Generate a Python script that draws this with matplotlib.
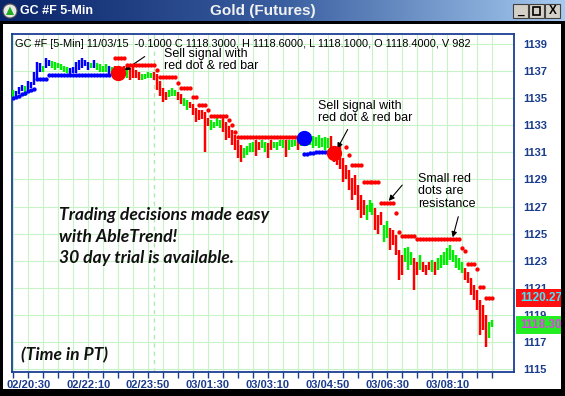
import numpy as np
import matplotlib
matplotlib.use("Agg")
import matplotlib.pyplot as plt
from matplotlib.patches import Rectangle, Circle, Polygon
from matplotlib.colors import LinearSegmentedColormap

W, H = 565, 396

# --- 5-min bars (bar 0 = 02/20:05) ---
highs = [1135.6, 1135.5, 1135.8, 1136.0, 1135.9, 1136.3, 1136.2, 1136.9, 1137.7, 1137.6,
         1137.4, 1138.0, 1137.8, 1137.75, 1137.7, 1137.6, 1137.5, 1137.4, 1137.3, 1137.2,
         1137.3, 1137.7, 1137.8, 1138.0, 1137.8, 1137.7, 1137.6, 1137.8, 1137.6, 1137.5,
         1137.4, 1137.5, 1137.4, 1137.3, 1137.4, 1137.25, 1137.3, 1137.4, 1137.3, 1137.25,
         1137.3, 1137.1, 1136.9, 1136.8, 1136.8, 1136.9, 1136.85, 1136.9, 1136.8, 1136.3,
         1135.75, 1135.45, 1135.6, 1135.75, 1135.6, 1135.45, 1135.3, 1135.0, 1134.9, 1134.7,
         1134.6, 1134.3, 1134.1, 1134.1, 1134.0, 1133.55, 1133.4, 1133.25, 1133.55, 1133.4,
         1133.55, 1133.25, 1132.95, 1132.65, 1132.3, 1131.9, 1131.55, 1131.3, 1131.45, 1131.7,
         1131.75, 1131.9, 1131.75, 1131.9, 1131.75, 1131.7, 1131.9, 1131.8, 1131.75, 1131.95,
         1131.95, 1131.9, 1131.9, 1131.95, 1131.95, 1131.9, 1131.95, 1132.2, 1132.2, 1132.35,
         1132.2, 1132.1, 1132.3, 1132.05, 1132.1, 1132.05, 1132.2, 1131.5, 1131.3, 1131.5,
         1130.6, 1130.1, 1129.7, 1129.1, 1129.3, 1128.6, 1127.85, 1127.5, 1127.1, 1127.5,
         1127.25, 1126.9, 1126.4, 1126.6, 1125.65, 1125.9, 1125.4, 1125.3, 1124.9, 1123.8,
         1123.45, 1123.95, 1124.0, 1123.65, 1123.2, 1122.9, 1123.4, 1122.9, 1122.7, 1122.9,
         1123.05, 1122.9, 1123.2, 1123.4, 1123.65, 1123.95, 1124.2, 1123.8, 1123.4, 1123.2,
         1122.9, 1122.45, 1122.15, 1121.7, 1121.2, 1120.85, 1120.1, 1119.75, 1119.0, 1118.5, 1118.6]
lows = [1135.0, 1135.1, 1135.3, 1135.5, 1135.2, 1135.6, 1135.75, 1136.0, 1136.5, 1136.9,
        1136.9, 1137.2, 1137.4, 1137.2, 1137.1, 1137.2, 1137.1, 1136.9, 1136.85, 1136.8,
        1136.85, 1136.85, 1137.1, 1137.2, 1137.4, 1137.1, 1137.2, 1137.2, 1137.1, 1136.9,
        1136.9, 1136.9, 1136.8, 1136.8, 1136.6, 1136.5, 1136.7, 1136.6, 1136.5, 1136.35,
        1136.5, 1136.5, 1136.35, 1136.35, 1136.4, 1136.5, 1136.5, 1136.35, 1135.6, 1135.2,
        1134.7, 1134.9, 1135.1, 1135.2, 1135.2, 1134.9, 1134.55, 1134.4, 1134.1, 1134.3,
        1133.75, 1133.25, 1133.4, 1133.5, 1131.0, 1132.95, 1132.65, 1132.8, 1132.95, 1132.8,
        1132.5, 1131.9, 1132.05, 1131.55, 1131.2, 1130.6, 1130.3, 1130.6, 1130.8, 1131.0,
        1131.0, 1130.7, 1131.2, 1131.3, 1131.0, 1130.6, 1131.2, 1131.3, 1131.2, 1131.45,
        1131.3, 1130.65, 1131.2, 1131.4, 1131.45, 1131.2, 1131.5, 1131.6, 1131.45, 1131.55,
        1131.3, 1131.5, 1131.3, 1131.4, 1131.2, 1131.3, 1131.0, 1130.3, 1130.1, 1129.75,
        1128.8, 1129.0, 1128.2, 1127.5, 1127.85, 1126.75, 1126.15, 1126.35, 1126.0, 1126.6,
        1126.4, 1125.3, 1124.95, 1125.65, 1124.4, 1124.7, 1123.8, 1124.15, 1123.45, 1121.6,
        1121.95, 1122.9, 1122.35, 1122.7, 1120.85, 1121.95, 1122.35, 1122.15, 1121.95, 1122.35,
        1122.15, 1121.95, 1122.35, 1122.45, 1122.7, 1122.7, 1123.05, 1122.9, 1122.45, 1122.35,
        1122.1, 1121.6, 1121.35, 1120.45, 1120.1, 1119.35, 1117.55, 1117.9, 1116.65, 1117.3, 1118.1]
# b = uptrend, g = neutral, r = downtrend
bar_codes = ("gbbbgbbbbb" "gbbggggggb" "bbbbbbgbgg" "ggbgrrgrgr" "rrrggggrrr"
             "rrgggrrggr" "rrrrrrgggg" "rrrrrrrggg" "grrggrrggg" "grgggrgbgg"
             "ggggggrrrr" "rrrrrrrrgg" "grrrggrrrr" "rgggrrgrrr" "grgggggggg"
             "grrrrrrrrg" "g")

# stop dots: runs of (first bar, last bar, level)
blue_start = [0, 1, 2, 3, 4, 5, 6, 7, 8, 12, 97, 99, 101, 103]
blue_end = [0, 1, 2, 3, 4, 5, 6, 7, 11, 32, 98, 100, 102, 105]
blue_level = [1135.0, 1135.1, 1135.2, 1135.3, 1135.4, 1135.5, 1135.6, 1135.7, 1136.4, 1136.7,
              1130.9, 1130.95, 1131.0, 1131.05]
red_start = [34, 38, 48, 49, 55, 56, 60, 62, 65, 66, 72, 73, 74, 75, 111, 112, 113, 117, 123, 128,
             129, 130, 135, 150, 151, 152, 155, 156, 158]
red_end = [37, 47, 48, 54, 55, 59, 61, 64, 65, 71, 72, 73, 74, 96, 111, 112, 116, 122, 127, 128,
           129, 134, 149, 150, 151, 154, 155, 157, 160]
red_level = [1138.0, 1137.45, 1137.1, 1136.55, 1136.1, 1135.75, 1135.1, 1134.5, 1134.1, 1133.7,
             1133.4, 1133.0, 1132.5, 1132.1, 1131.4, 1130.8, 1130.05, 1128.8, 1127.25, 1126.5,
             1125.1, 1124.85, 1124.6, 1123.95, 1123.7, 1122.75, 1122.4, 1121.1, 1120.27]

# big signal dots
sig_bar = [35, 97, 107]
sig_price = [1136.86, 1132.06, 1130.95]
sig_color = ["#ff0000", "#0000ff", "#ff0000"]

time_labels = ["02/20:30", "02/22:10", "02/23:50", "03/01:30",
               "03/03:10", "03/04:50", "03/06:30", "03/08:10"]
label_bars = [5, 25, 45, 65, 85, 105, 125, 145]
price_ticks = list(range(1115, 1140, 2))

last_stop = 1120.27
last_close = 1118.30

code_col = {"b": "#0000ff", "g": "#00ee00", "r": "#ff0000"}
navy = "#1a3c8c"


def fx(x):
    return x / W


def fy(y):
    return 1 - y / H


fig = plt.figure(figsize=(W / 100, H / 100), dpi=100)
fig.patch.set_facecolor("white")

# ---- title bar ----
tb = fig.add_axes([0, fy(21), 1, 21 / H])
grad = np.linspace(0, 1, 256).reshape(1, -1)
cm = LinearSegmentedColormap.from_list("tb", ["#0a246a", "#3a5fa0", "#a6caf0"])
tb.imshow(grad, aspect="auto", cmap=cm, extent=[0, W, 21, 0])
tb.set_xlim(0, W)
tb.set_ylim(21, 0)
tb.axis("off")
tb.add_patch(Circle((10, 11), 7, facecolor="#e8e8e8", edgecolor="#555555", lw=0.8))
tb.add_patch(Polygon([[6, 15], [10, 6.5], [14, 15]], closed=True, facecolor="#22aa22"))
tb.text(20, 11, "GC #F 5-Min", color="white", fontsize=9, fontweight="bold",
        family="Liberation Sans", va="center", ha="left")
tb.text(263, 11, "Gold (Futures)", color="#f2f2f2", fontsize=11, fontweight="bold",
        family="Liberation Sans", va="center", ha="center")
for bx, sym in zip([513, 529, 545], ["_", "", "X"]):
    tb.add_patch(Rectangle((bx, 3.5), 15, 14, facecolor="#d4d0c8", edgecolor="#404040", lw=0.8))
    if sym:
        tb.text(bx + 7.5, 11, sym, fontsize=8.5, fontweight="bold", ha="center", va="center",
                family="Liberation Sans", color="black")
    else:
        tb.add_patch(Rectangle((bx + 4, 6.5), 7, 8, facecolor="none", edgecolor="black", lw=1.2))

# ---- main chart ----
ax = fig.add_axes([fx(12), fy(372), (514 - 12) / W, (372 - 34) / H])
ax.set_xlim(-0.5, 167.3)
ax.set_ylim(1114.79, 1139.74)

xt = list(range(0, 161, 5))
ax.set_xticks(xt)
ax.set_xticklabels([time_labels[label_bars.index(t)] if t in label_bars else "" for t in xt])
ax.set_yticks(price_ticks)
ax.yaxis.tick_right()
ax.grid(True, color="#c6f4c6", lw=0.8)
ax.set_axisbelow(True)
ax.axvline(47, color="#b0e8b0", lw=1, ls=(0, (3, 3)), zorder=0.5)

ax.tick_params(axis="y", length=0, pad=7, labelsize=8, labelcolor=navy)
ax.tick_params(axis="x", length=4, width=1, color=navy, pad=2, labelsize=8, labelcolor=navy)
for lab in ax.get_xticklabels() + ax.get_yticklabels():
    lab.set_fontweight("bold")
    lab.set_family("Liberation Sans")
for sp in ax.spines.values():
    sp.set_color("#1b3f96")
    sp.set_linewidth(1.3)

idx = np.arange(len(highs))
ax.vlines(idx, lows, highs, colors=[code_col[c] for c in bar_codes], lw=1.75, zorder=3)

for s, e, lv in zip(blue_start, blue_end, blue_level):
    xs = np.arange(s, e + 1)
    ax.plot(xs, [lv] * len(xs), "o", color="#0000ff", ms=3.1, mew=0, zorder=4)
for s, e, lv in zip(red_start, red_end, red_level):
    xs = np.arange(s, e + 1)
    ax.plot(xs, [lv] * len(xs), "o", color="#ff0000", ms=3.1, mew=0, zorder=4)

for b, p, c in zip(sig_bar, sig_price, sig_color):
    ax.plot(b, p, "o", color=c, ms=11, mew=0, zorder=5)

# ---- texts ----
fig.text(fx(15), fy(44), "GC #F [5-Min] 11/03/15  -0.1000 C 1118.3000, H 1118.6000, "
         "L 1118.1000, O 1118.4000, V 982", fontsize=7.9, family="Liberation Sans",
         va="center", ha="left", color="black")

note_kw = dict(fontsize=9, family="Liberation Sans", color="black", linespacing=1.05,
               va="top", ha="left")
arrow_kw = dict(arrowstyle="-|>", color="black", lw=0.8, mutation_scale=8)
fig.text(fx(164), fy(48), "Sell signal with\nred dot & red bar", **note_kw)
ax.annotate("", xy=(fx(122), fy(72)), xycoords="figure fraction",
            xytext=(fx(147), fy(55)), textcoords="figure fraction", arrowprops=arrow_kw)
fig.text(fx(318), fy(100), "Sell signal with\nred dot & red bar", **note_kw)
ax.annotate("", xy=(fx(336), fy(151)), xycoords="figure fraction",
            xytext=(fx(349), fy(127)), textcoords="figure fraction", arrowprops=arrow_kw)
fig.text(fx(418), fy(173), "Small red\ndots are\nresistance", **note_kw)
ax.annotate("", xy=(fx(387), fy(203)), xycoords="figure fraction",
            xytext=(fx(404), fy(183)), textcoords="figure fraction", arrowprops=arrow_kw)
ax.annotate("", xy=(fx(452), fy(240)), xycoords="figure fraction",
            xytext=(fx(459), fy(214)), textcoords="figure fraction", arrowprops=arrow_kw)

ad_kw = dict(fontsize=12.6, fontweight="bold", style="italic", family="Lato",
             color="#111111", va="center", ha="left")
fig.text(fx(59), fy(215), "Trading decisions made easy", **ad_kw)
fig.text(fx(59), fy(237), "with AbleTrend!", **ad_kw)
fig.text(fx(59), fy(258), "30 day trial is available.", **ad_kw)
fig.text(fx(21), fy(355), "(Time in PT)", **ad_kw)

# last price boxes on the right scale
fig.add_artist(Rectangle((fx(516), fy(307)), 49 / W, 18 / H, transform=fig.transFigure,
                         facecolor="#ff1010", edgecolor="none", zorder=5))
fig.text(fx(520), fy(298), f"{last_stop:.2f}", color="#40e8ff", fontsize=8.5,
         fontweight="bold", family="Liberation Sans", va="center", ha="left", zorder=6)
fig.add_artist(Rectangle((fx(516), fy(334)), 49 / W, 18 / H, transform=fig.transFigure,
                         facecolor="#22ee22", edgecolor="none", zorder=5))
fig.text(fx(520), fy(325), f"{last_close:.2f}", color="#e040e8", fontsize=8.5,
         fontweight="bold", family="Liberation Sans", va="center", ha="left", zorder=6)

# window frame
for r in [(0, 21, 3, H - 21), (561, 21, 4, H - 21), (0, 389, W, 7), (0, 21, W, 3)]:
    x0, y0, w, h = r
    fig.add_artist(Rectangle((fx(x0), fy(y0 + h)), w / W, h / H, transform=fig.transFigure,
                             facecolor="black", edgecolor="none", zorder=10))

fig.savefig("out.png", dpi=100)
